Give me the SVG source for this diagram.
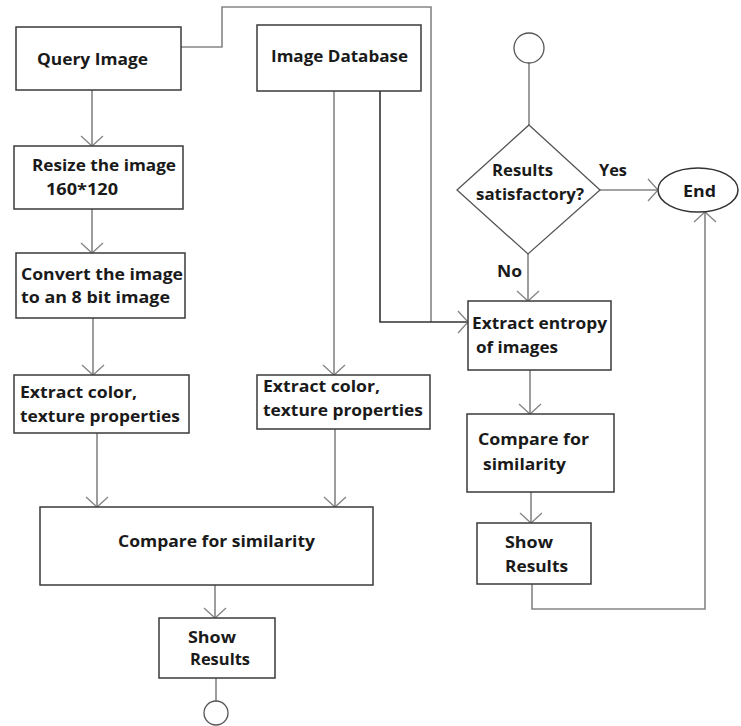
<svg xmlns="http://www.w3.org/2000/svg" width="741" height="726" viewBox="0 0 741 726">
<style>
.box{fill:#fff;stroke:#3a3a3a;stroke-width:1.5}
.c{fill:none;stroke:#858585;stroke-width:1.6}
.t{font-family:"Open Sans","Liberation Sans",sans-serif;font-weight:bold;font-size:16px;fill:#1a1a1a}
</style>
<defs>
<marker id="ah" markerUnits="userSpaceOnUse" markerWidth="24" markerHeight="24" refX="0" refY="0" viewBox="-12 -12 24 24" orient="auto" overflow="visible">
<path d="M-10,-11 L0,0 L-10,11" fill="none" stroke="#858585" stroke-width="1.3"/>
</marker>
</defs>
<rect width="741" height="726" fill="#fff"/>
<g id="connectors">
<path class="c" d="M181,47 H222 V7 H431 V322"/>
<path class="c" d="M92,90 V146" marker-end="url(#ah)"/>
<path class="c" d="M92,209 V253" marker-end="url(#ah)"/>
<path class="c" d="M93,318 V375" marker-end="url(#ah)"/>
<path class="c" d="M97,433 V507" marker-end="url(#ah)"/>
<path class="c" d="M334,91 V375" marker-end="url(#ah)"/>
<path class="c" d="M335,429 V507" marker-end="url(#ah)"/>
<path class="c" d="M380,91 V322 H468" style="stroke:#333" marker-end="url(#ah)"/>
<path class="c" d="M215,585 V618" marker-end="url(#ah)"/>
<path class="c" d="M216,678 V701"/>
<path class="c" d="M529,63 V125"/>
<path class="c" d="M600,190 H658" marker-end="url(#ah)"/>
<path class="c" d="M528,254 V301" marker-end="url(#ah)"/>
<path class="c" d="M530,370 V414" marker-end="url(#ah)"/>
<path class="c" d="M531,492 V523" marker-end="url(#ah)"/>
<path class="c" d="M532,584 V609 H705 V212" marker-end="url(#ah)"/>
</g>
<g id="query">
<rect class="box" x="16" y="27" width="165" height="63"/>
<text class="t" x="37" y="65" textLength="111" lengthAdjust="spacingAndGlyphs">Query Image</text>
</g>
<g id="resize">
<rect class="box" x="14" y="146" width="169" height="63"/>
<text class="t" x="32" y="171" textLength="144" lengthAdjust="spacingAndGlyphs">Resize the image</text>
<text class="t" x="46" y="195" textLength="72" lengthAdjust="spacingAndGlyphs">160*120</text>
</g>
<g id="convert">
<rect class="box" x="16" y="253" width="169" height="65"/>
<text class="t" x="21" y="280" textLength="162" lengthAdjust="spacingAndGlyphs">Convert the image</text>
<text class="t" x="21" y="303" textLength="149" lengthAdjust="spacingAndGlyphs">to an 8 bit image</text>
</g>
<g id="extract1">
<rect class="box" x="14" y="375" width="175" height="58"/>
<text class="t" x="20" y="398" textLength="117" lengthAdjust="spacingAndGlyphs">Extract color,</text>
<text class="t" x="20" y="422" textLength="160" lengthAdjust="spacingAndGlyphs">texture properties</text>
</g>
<g id="database">
<rect class="box" x="257" y="25" width="164" height="66"/>
<text class="t" x="271" y="62" textLength="137" lengthAdjust="spacingAndGlyphs">Image Database</text>
</g>
<g id="extract2">
<rect class="box" x="257" y="375" width="173" height="54"/>
<text class="t" x="263" y="392" textLength="117" lengthAdjust="spacingAndGlyphs">Extract color,</text>
<text class="t" x="263" y="416" textLength="160" lengthAdjust="spacingAndGlyphs">texture properties</text>
</g>
<g id="compare1">
<rect class="box" x="40" y="507" width="333" height="78"/>
<text class="t" x="118" y="547" textLength="197" lengthAdjust="spacingAndGlyphs">Compare for similarity</text>
</g>
<g id="show1">
<rect class="box" x="159" y="618" width="116" height="60"/>
<text class="t" x="188" y="643" textLength="48" lengthAdjust="spacingAndGlyphs">Show</text>
<text class="t" x="190" y="665" textLength="60" lengthAdjust="spacingAndGlyphs">Results</text>
</g>
<g id="end1">
<circle cx="216" cy="713" r="12" fill="#fff" stroke="#555" stroke-width="1.3"/>
</g>
<g id="start2">
<circle cx="529" cy="48" r="15" fill="#fff" stroke="#555" stroke-width="1.3"/>
</g>
<g id="decision">
<polygon points="529,125 600,190 528,254 457,190" fill="#fff" stroke="#555" stroke-width="1.3"/>
<text class="t" x="492" y="176" textLength="61" lengthAdjust="spacingAndGlyphs">Results</text>
<text class="t" x="476" y="200" textLength="108" lengthAdjust="spacingAndGlyphs">satisfactory?</text>
</g>
<g id="labels">
<text class="t" x="599" y="176" textLength="28" lengthAdjust="spacingAndGlyphs">Yes</text>
<text class="t" x="497" y="277" textLength="25" lengthAdjust="spacingAndGlyphs">No</text>
</g>
<g id="end">
<ellipse cx="698" cy="190" rx="40" ry="22" fill="#fff" stroke="#333" stroke-width="1.5"/>
<text class="t" x="683" y="197" textLength="33" lengthAdjust="spacingAndGlyphs">End</text>
</g>
<g id="entropy">
<rect class="box" x="468" y="301" width="143" height="69"/>
<text class="t" x="472" y="329" textLength="135" lengthAdjust="spacingAndGlyphs">Extract entropy</text>
<text class="t" x="476" y="353" textLength="82" lengthAdjust="spacingAndGlyphs">of images</text>
</g>
<g id="compare2">
<rect class="box" x="467" y="414" width="147" height="78"/>
<text class="t" x="478" y="445" textLength="111" lengthAdjust="spacingAndGlyphs">Compare for</text>
<text class="t" x="483" y="470" textLength="83" lengthAdjust="spacingAndGlyphs">similarity</text>
</g>
<g id="show2">
<rect class="box" x="477" y="523" width="114" height="61"/>
<text class="t" x="505" y="548" textLength="48" lengthAdjust="spacingAndGlyphs">Show</text>
<text class="t" x="505" y="572" textLength="63" lengthAdjust="spacingAndGlyphs">Results</text>
</g>
</svg>
